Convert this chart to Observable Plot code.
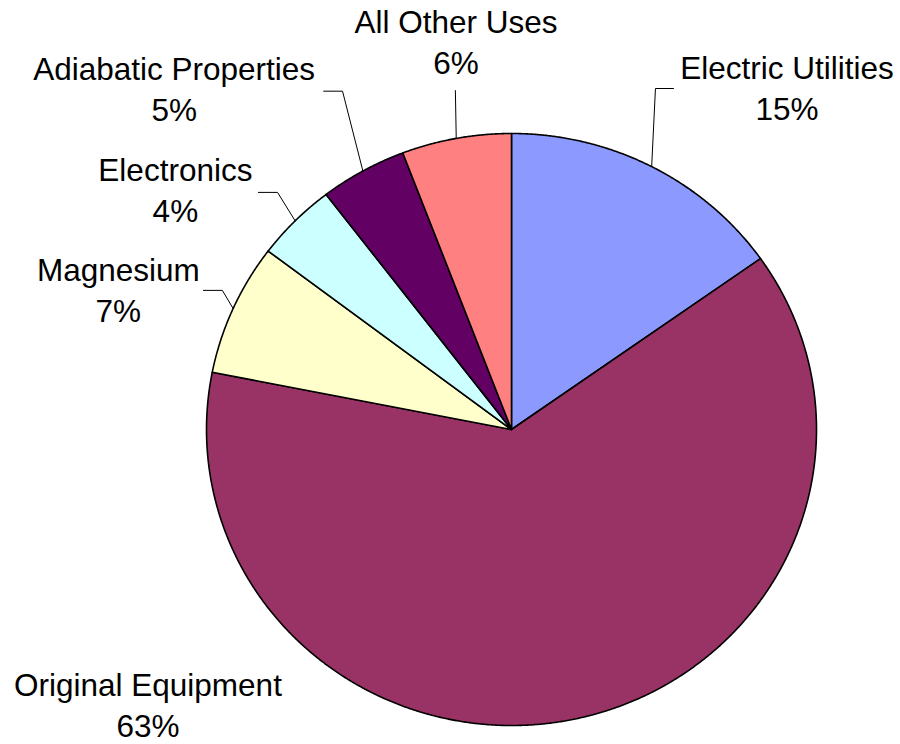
<!DOCTYPE html>
<html>
<head>
<meta charset="utf-8">
<script src="https://cdn.jsdelivr.net/npm/d3@7"></script>
<script src="https://cdn.jsdelivr.net/npm/@observablehq/plot@0.6"></script>
<style>
  html, body { margin: 0; padding: 0; background: #fff; }
</style>
</head>
<body>
<div id="chart"></div>
<script>
// ---- data ----
const categories = ["Electric Utilities", "Original Equipment", "Magnesium", "Electronics", "Adiabatic Properties", "All Other Uses"];
const shares = [15.2, 62.9, 7.2, 4.3, 4.6, 5.8];
const pctLabels = ["15%", "63%", "7%", "4%", "5%", "6%"];
const colors = ["#8C9AFF", "#993366", "#FFFFCC", "#CCFFFF", "#630063", "#FF8080"];

// ---- label layout (in pie units: radius = 1) ----
const labelPos = [
  [0.903, 1.158], [-1.192, -0.924], [-1.289, 0.477], [-1.102, 0.815], [-1.106, 1.157], [-0.182, 1.316]
];
// leader elbows: points before reaching the slice edge
const leaderElbows = [
  [[0.531, 1.152], [0.472, 1.152]],
  null,
  [[-1.010, 0.470], [-0.948, 0.470]],
  [[-0.830, 0.801], [-0.767, 0.801]],
  [[-0.616, 1.143], [-0.554, 1.143]],
  [[-0.184, 1.145]]
];

const arcs = d3.pie().sort(null).value(d => d)(shares);

const slicePts = [];
arcs.forEach((a, i) => {
  const name = categories[i];
  slicePts.push({name, x: 0, y: 0});
  const step = Math.PI / 720;
  const n = Math.max(2, Math.ceil((a.endAngle - a.startAngle) / step));
  for (let k = 0; k <= n; k++) {
    const t = a.startAngle + (a.endAngle - a.startAngle) * k / n;
    slicePts.push({name, x: Math.sin(t), y: Math.cos(t)});
  }
  slicePts.push({name, x: 0, y: 0});
});

const leaderPts = [];
arcs.forEach((a, i) => {
  const el = leaderElbows[i];
  if (!el) return;
  const m = (a.startAngle + a.endAngle) / 2;
  el.forEach(p => leaderPts.push({name: categories[i], x: p[0], y: p[1]}));
  leaderPts.push({name: categories[i], x: Math.sin(m), y: Math.cos(m)});
});

const labels = categories.map((c, i) => ({name: c, pct: pctLabels[i], x: labelPos[i][0], y: labelPos[i][1]}));

const chart = Plot.plot({
  width: 900,
  height: 744,
  margin: 0,
  style: {fontFamily: "'Liberation Sans', Arial, sans-serif", background: "#fff"},
  x: {domain: [-1, 1], range: [206, 816], axis: null},
  y: {domain: [-1, 1], range: [725, 133], axis: null},
  color: {type: "ordinal", domain: categories, range: colors},
  marks: [
    Plot.line(slicePts, {x: "x", y: "y", z: "name", fill: "name", stroke: "#000", strokeWidth: 1.6, strokeLinejoin: "round"}),
    Plot.line(leaderPts, {x: "x", y: "y", z: "name", stroke: "#000", strokeWidth: 1}),
    Plot.text(labels, {x: "x", y: "y", text: d => d.name + "\n" + d.pct, fontSize: 31.5, lineHeight: 1.3, textAnchor: "middle", lineAnchor: "middle", fill: "#000"})
  ]
});
document.getElementById("chart").appendChild(chart);
</script>
</body>
</html>
